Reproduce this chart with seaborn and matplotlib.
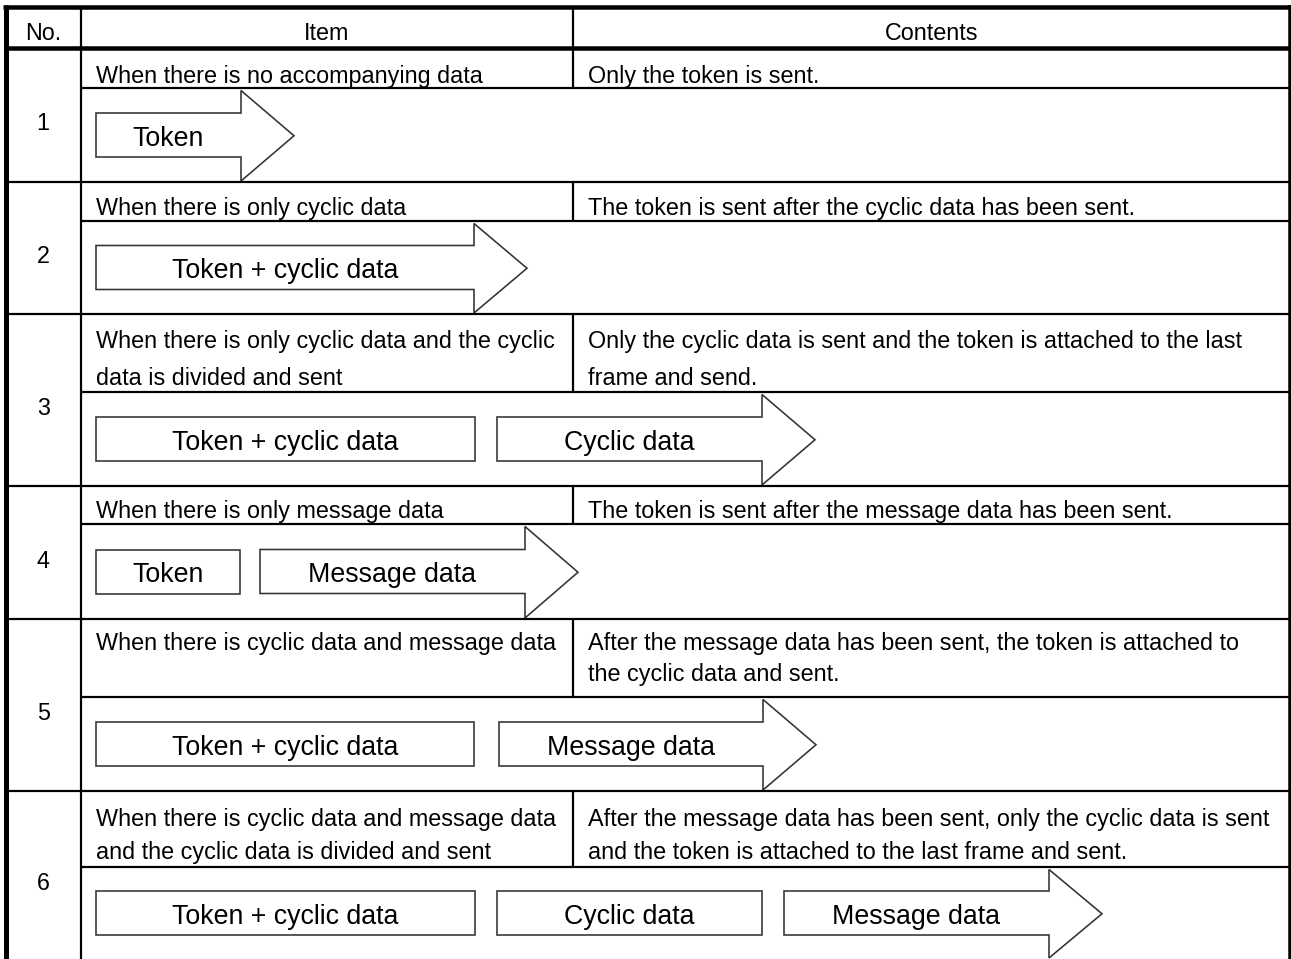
import matplotlib
matplotlib.use("Agg")
import matplotlib.pyplot as plt
from matplotlib.patches import Polygon, Rectangle
import seaborn as sns

# Table content
header_labels = ["No.", "Item", "Contents"]
row_numbers = ["1", "2", "3", "4", "5", "6"]
item_texts = [
    ["When there is no accompanying data"],
    ["When there is only cyclic data"],
    ["When there is only cyclic data and the cyclic", "data is divided and sent"],
    ["When there is only message data"],
    ["When there is cyclic data and message data"],
    ["When there is cyclic data and message data", "and the cyclic data is divided and sent"],
]
contents_texts = [
    ["Only the token is sent."],
    ["The token is sent after the cyclic data has been sent."],
    ["Only the cyclic data is sent and the token is attached to the last", "frame and send."],
    ["The token is sent after the message data has been sent."],
    ["After the message data has been sent, the token is attached to", "the cyclic data and sent."],
    ["After the message data has been sent, only the cyclic data is sent",
     "and the token is attached to the last frame and sent."],
]
# frames sent in each case; the last one of each row is drawn as an arrow
frame_labels = [
    ["Token"],
    ["Token + cyclic data"],
    ["Token + cyclic data", "Cyclic data"],
    ["Token", "Message data"],
    ["Token + cyclic data", "Message data"],
    ["Token + cyclic data", "Cyclic data", "Message data"],
]

# Layout (pixel coordinates of the page)
W, H = 1291, 959
row_top = [48, 182, 314, 486, 619, 791]
row_sub = [88, 221, 392, 524, 697, 867]
row_bottom = [182, 314, 486, 619, 791, 959]
text_baselines = [[83], [215], [348, 385], [518], [650, 681], [826, 859]]
frame_x = [
    [(96, 241)],
    [(96, 474)],
    [(96, 475), (497, 762)],
    [(96, 240), (260, 525)],
    [(96, 474), (499, 763)],
    [(96, 475), (497, 762), (784, 1049)],
]
x_left, x_no, x_item, x_right = 5.5, 81, 573, 1289.5
y_top, y_head = 7, 47.5
tip_len = 53
body_half = 22

sns.set_theme(style="white")
plt.rcParams["font.family"] = ["Liberation Sans", "DejaVu Sans"]

fig = plt.figure(figsize=(W / 100, H / 100), dpi=100)
ax = fig.add_axes([0, 0, 1, 1])
ax.set_xlim(0, W)
ax.set_ylim(H, 0)
ax.axis("off")

px = 72 / 100  # pixel -> points
fs_body = 23.4 * px
fs_label = 26.8 * px
thick = 4.5 * px
thin = 2.2 * px
edge = "#333333"

# outer frame and header rule
ax.plot([x_left, x_left], [y_top - 2, H], color="black", lw=5 * px, solid_capstyle="butt")
ax.plot([x_right, x_right], [y_top - 2, H], color="black", lw=3.5 * px, solid_capstyle="butt")
ax.plot([x_left - 2.5, x_right + 1.5], [y_top, y_top], color="black", lw=thick, solid_capstyle="butt")
ax.plot([x_left, x_right], [y_head, y_head], color="black", lw=thick, solid_capstyle="butt")
ax.plot([x_no, x_no], [y_top, H], color="black", lw=thin, solid_capstyle="butt")
ax.plot([x_item, x_item], [y_top, y_head], color="black", lw=thin, solid_capstyle="butt")

# header labels
for label, xc in zip(header_labels, [(x_left + x_no) / 2, (x_no + x_item) / 2, (x_item + x_right) / 2]):
    ax.text(xc, 40, label, fontsize=fs_body, ha="center", va="baseline", color="black")

for i in range(len(row_numbers)):
    top, sub, bot = row_top[i], row_sub[i], row_bottom[i]

    # rules of the row
    if i < len(row_numbers) - 1:
        ax.plot([x_left, x_right], [bot, bot], color="black", lw=thin, solid_capstyle="butt")
    ax.plot([x_no, x_right], [sub, sub], color="black", lw=thin, solid_capstyle="butt")
    ax.plot([x_item, x_item], [top, sub], color="black", lw=thin, solid_capstyle="butt")

    # number, item and contents texts
    ax.text((x_left + x_no) / 2, (top + bot) / 2 + 15, row_numbers[i], fontsize=fs_body,
            ha="center", va="baseline", color="black")
    for line, yb in zip(item_texts[i], text_baselines[i]):
        ax.text(96, yb, line, fontsize=fs_body, ha="left", va="baseline", color="black")
    for line, yb in zip(contents_texts[i], text_baselines[i]):
        ax.text(588, yb, line, fontsize=fs_body, ha="left", va="baseline", color="black")

    # frames: plain boxes, then an arrow for the last frame
    mid = (sub + bot) / 2
    b_top, b_bot = mid - body_half, mid + body_half
    h_top, h_bot = sub + 2.5, bot - 1
    for j, (label, (x0, x1)) in enumerate(zip(frame_labels[i], frame_x[i])):
        if j < len(frame_labels[i]) - 1:
            ax.add_patch(Rectangle((x0, b_top), x1 - x0, b_bot - b_top, facecolor="white",
                                   edgecolor=edge, lw=1.6 * px))
        else:
            pts = [(x0, b_top), (x1, b_top), (x1, h_top), (x1 + tip_len, (h_top + h_bot) / 2),
                   (x1, h_bot), (x1, b_bot), (x0, b_bot)]
            ax.add_patch(Polygon(pts, closed=True, facecolor="white", edgecolor=edge,
                                 lw=1.6 * px, joinstyle="miter"))
        ax.text((x0 + x1) / 2, mid + 1, label, fontsize=fs_label, ha="center",
                va="center_baseline", color="black")

fig.savefig("out.png", dpi=100)
